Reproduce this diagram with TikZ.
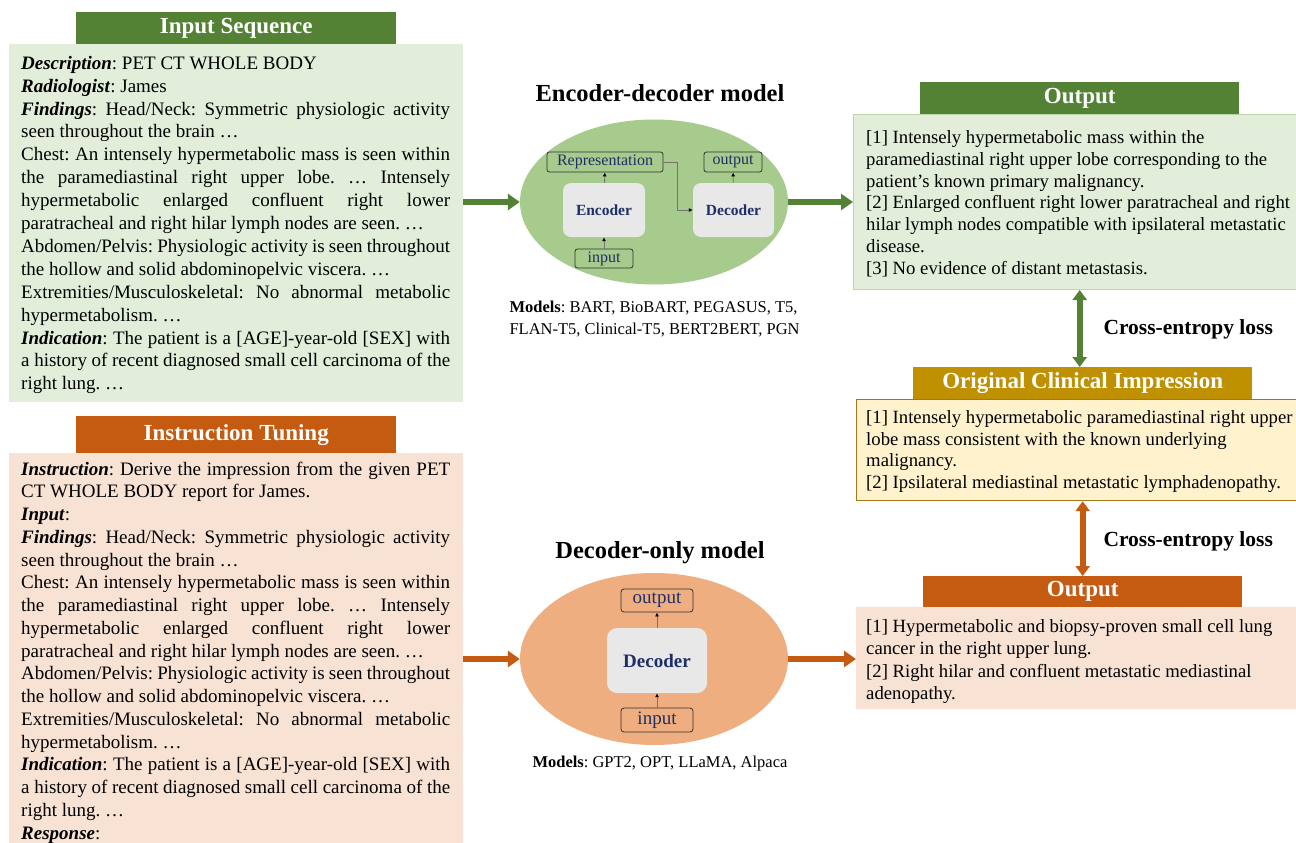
\documentclass[tikz,border=0pt]{standalone}
\usepackage{fontspec}
\setmainfont{Liberation Serif}
\usetikzlibrary{arrows.meta,shapes.geometric,calc}
\definecolor{dgreen}{HTML}{548235}
\definecolor{lgreen}{HTML}{E2EEDA}
\definecolor{egreen}{HTML}{A6CB8C}
\definecolor{gline}{HTML}{B9D6A6}
\definecolor{dorange}{HTML}{C55A11}
\definecolor{lorange}{HTML}{F8E2D4}
\definecolor{eorange}{HTML}{EFAE80}
\definecolor{gold}{HTML}{BF9000}
\definecolor{lgold}{HTML}{FFF2CC}
\definecolor{goldline}{HTML}{A07818}
\definecolor{navy}{HTML}{1F2F66}
\definecolor{boxgray}{HTML}{E8E8E8}
\newcommand{\SP}{\spaceskip=0pt\xspaceskip=0pt\frenchspacing}
\newcommand{\J}[1]{{\SP\makebox[429pt][s]{#1}}}
\newcommand{\BI}[1]{\textbf{\textit{#1}}}
\begin{document}
\frenchspacing
\begin{tikzpicture}[x=1pt,y=-1pt,
  hdr/.style={anchor=north west, inner sep=0, text=white, font=\fontsize{23}{26}\selectfont\bfseries},
  panel/.style={anchor=north west, inner sep=0},
  body/.style={anchor=north west, inner sep=0, align=left, text width=429pt, font=\fontsize{19}{22.9}\selectfont},
  rbody/.style={anchor=north west, inner sep=0, align=left, font=\fontsize{18.7}{21.8}\selectfont},
  title/.style={anchor=base, font=\fontsize{24.5}{28}\selectfont\bfseries},
  models/.style={font=\fontsize{16.5}{22}\selectfont, align=left},
  bigarr/.style={line width=6pt, -{Triangle[length=12pt,width=16pt]}},
  dblarr/.style={line width=6pt, {Triangle[length=10pt,width=14pt]}-{Triangle[length=10pt,width=14pt]}},
  thinarr/.style={draw=black!55, line width=0.8pt, -{Latex[length=4pt,width=4pt,color=black]}},
  smallbox/.style={draw=black!80, line width=0.8pt, rounded corners=2.5pt, inner sep=0, text=navy},
  corebox/.style={fill=boxgray, rounded corners=8pt, inner sep=0, text=navy},
  lossl/.style={anchor=base west, font=\fontsize{21.5}{24}\selectfont\bfseries}
]
\useasboundingbox (0,0) rectangle (1296,843);
\fill[white] (0,0) rectangle (1296,843);

% ---------- left panels ----------
\node[panel, fill=lgreen, minimum width=454pt, minimum height=358pt] (inbox) at (9,44) {};
\node[hdr, fill=dgreen, minimum width=320pt, minimum height=32pt] (ihdr) at (76,12) {Input Sequence};
\node[body] (intext) at (21,53) {\SP\strut\BI{Description}: PET CT WHOLE BODY\\
\BI{Radiologist}: James\\
\J{\BI{Findings}: Head/Neck: Symmetric physiologic activity}\\
seen throughout the brain …\\
\J{Chest: An intensely hypermetabolic mass is seen within}\\
\J{the paramediastinal right upper lobe. … Intensely}\\
\J{hypermetabolic enlarged confluent right lower}\\
paratracheal and right hilar lymph nodes are seen. …\\
\J{Abdomen/Pelvis: Physiologic activity is seen throughout}\\
the hollow and solid abdominopelvic viscera. …\\
\J{Extremities/Musculoskeletal: No abnormal metabolic}\\
hypermetabolism. …\\
\J{\BI{Indication}: The patient is a [AGE]-year-old [SEX] with}\\
\J{a history of recent diagnosed small cell carcinoma of the}\\
right lung. …};

\node[panel, fill=lorange, minimum width=454pt, minimum height=392pt] (ibox) at (9,453) {};
\node[hdr, fill=dorange, minimum width=320pt, minimum height=37pt] (ithdr) at (76,416) {Instruction Tuning};
\node[body, font=\fontsize{19}{22.75}\selectfont] (ittext) at (21,459) {\SP\strut\J{\BI{Instruction}: Derive the impression from the given PET}\\
CT WHOLE BODY report for James.\\
\BI{Input}:\\
\J{\BI{Findings}: Head/Neck: Symmetric physiologic activity}\\
seen throughout the brain …\\
\J{Chest: An intensely hypermetabolic mass is seen within}\\
\J{the paramediastinal right upper lobe. … Intensely}\\
\J{hypermetabolic enlarged confluent right lower}\\
paratracheal and right hilar lymph nodes are seen. …\\
\J{Abdomen/Pelvis: Physiologic activity is seen throughout}\\
the hollow and solid abdominopelvic viscera. …\\
\J{Extremities/Musculoskeletal: No abnormal metabolic}\\
hypermetabolism. …\\
\J{\BI{Indication}: The patient is a [AGE]-year-old [SEX] with}\\
\J{a history of recent diagnosed small cell carcinoma of the}\\
right lung. …\\
\BI{Response}:};

% ---------- right panels ----------
\node[panel, fill=lgreen, draw=gline, line width=1pt, minimum width=450pt, minimum height=175pt] (obox) at (853,114) {};
\node[hdr, fill=dgreen, minimum width=319pt, minimum height=32pt] (ohdr) at (920,82) {Output};
\node[rbody] (otext) at (866,128) {\SP\strut[1] Intensely hypermetabolic mass within the\\
paramediastinal right upper lobe corresponding to the\\
patient's known primary malignancy.\\{}[2] Enlarged confluent right lower paratracheal and right\\
hilar lymph nodes compatible with ipsilateral metastatic\\
disease.\\{}[3] No evidence of distant metastasis.};

\node[panel, fill=lgold, draw=goldline, line width=1.2pt, minimum width=447pt, minimum height=101pt] (cibox) at (856,399) {};
\node[hdr, fill=gold, minimum width=339pt, minimum height=32pt] (cihdr) at (913,367) {Original Clinical Impression};
\node[rbody, font=\fontsize{18.7}{21.7}\selectfont] (citext) at (866,408) {\SP\strut[1] Intensely hypermetabolic paramediastinal right upper\\
lobe mass consistent with the known underlying\\
malignancy.\\{}[2] Ipsilateral mediastinal metastatic lymphadenopathy.};

\node[panel, fill=lorange, minimum width=447pt, minimum height=102pt] (obox2) at (856,607) {};
\node[hdr, fill=dorange, minimum width=319pt, minimum height=31pt] (ohdr2) at (923,576) {Output};
\node[rbody, font=\fontsize{18.7}{22.2}\selectfont] (o2text) at (866,617) {\SP\strut[1] Hypermetabolic and biopsy-proven small cell lung\\
cancer in the right upper lung.\\{}[2] Right hilar and confluent metastatic mediastinal\\
adenopathy.};

\draw[dgreen, dblarr] (ohdr |- obox.south) -- (ohdr |- cihdr.north);
\draw[dorange, dblarr] (ohdr2 |- cibox.south) -- (ohdr2.north);
\node[lossl] (loss1) at (1100,334) {Cross-entropy loss};
\node[lossl] (loss2) at (1100,546) {Cross-entropy loss};

% ---------- encoder-decoder ----------
\node[title] (t1) at (660,102) {Encoder-decoder model};
\node[ellipse, fill=egreen, inner sep=0, minimum width=268pt, minimum height=165pt] (ed) at (654,202) {};
\node[corebox, minimum width=82pt, minimum height=54pt, font=\fontsize{15.5}{17}\selectfont\bfseries] (enc) at (604,210) {Encoder};
\node[corebox, minimum width=81pt, minimum height=54pt, font=\fontsize{15.5}{17}\selectfont\bfseries] (dec) at (733.5,210) {Decoder};
\node[smallbox, minimum width=116pt, minimum height=20pt, font=\fontsize{16}{17}\selectfont] (rep) at (605,162) {Representation};
\node[smallbox, minimum width=58pt, minimum height=20pt, font=\fontsize{16}{17}\selectfont] (eout) at (733,162) {output};
\node[smallbox, minimum width=58pt, minimum height=19pt, font=\fontsize{16}{17}\selectfont] (ein) at (604,258.5) {input};
\draw[thinarr] (ein) -- (enc);
\draw[thinarr] (enc) -- (rep);
\draw[thinarr] (dec) -- (eout);
\draw[thinarr] (rep.east) -- ++(14,0) |- (dec.west);
\node[models, anchor=north west] (m1) at (506,293.6) {\SP\strut\textbf{Models}: BART, BioBART, PEGASUS, T5,\\FLAN-T5, Clinical-T5, BERT2BERT, PGN};

\draw[dgreen, bigarr] (inbox.east |- ed.west) -- (ed.west);
\draw[dgreen, bigarr] (ed.east) -- (ed.east -| obox.west);

% ---------- decoder-only ----------
\node[title] (t2) at (660,558) {Decoder-only model};
\node[ellipse, fill=eorange, inner sep=0, minimum width=268pt, minimum height=172pt] (do) at (654,659) {};
\node[corebox, minimum width=100pt, minimum height=65pt, rounded corners=10pt, font=\fontsize{19}{22}\selectfont\bfseries] (ddec) at (657,660.5) {Decoder};
\node[smallbox, minimum width=72pt, minimum height=23pt, rounded corners=3pt, font=\fontsize{19}{22}\selectfont] (dout) at (657,600.5) {output};
\node[smallbox, minimum width=72pt, minimum height=24pt, rounded corners=3pt, font=\fontsize{19}{22}\selectfont] (din) at (657,720) {input};
\draw[thinarr] (din) -- (ddec);
\draw[thinarr] (ddec) -- (dout);
\node[models, anchor=base] (m2) at (660,767) {\textbf{Models}: GPT2, OPT, LLaMA, Alpaca};

\draw[dorange, bigarr] (ibox.east |- do.west) -- (do.west);
\draw[dorange, bigarr] (do.east) -- (do.east -| obox2.west);
\end{tikzpicture}
\end{document}
